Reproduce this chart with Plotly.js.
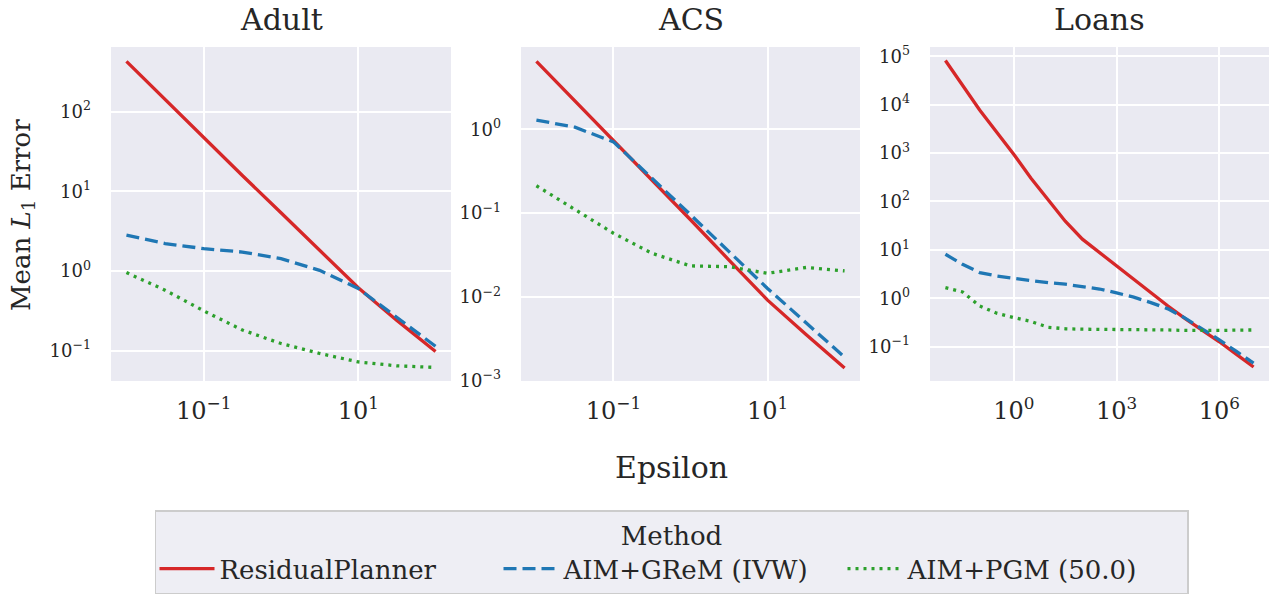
<!DOCTYPE html>
<html>
<head>
<meta charset="utf-8">
<script src="https://cdn.plot.ly/plotly-3.0.1.min.js"></script>
<style>html,body{margin:0;padding:0;background:#fff}#chart{width:1270px;height:595px}</style>
</head>
<body>
<div id="chart"></div>
<script>
// ---- data ----
const methods = ["ResidualPlanner", "AIM+GReM (IVW)", "AIM+PGM (50.0)"];

const epsSmall = [0.01, 0.0316, 0.1, 0.316, 1, 3.16, 10, 31.6, 100];
const epsLoans = [0.01, 0.0316, 0.1, 0.316, 1, 3.16, 10, 31.6, 100, 316, 1000, 3160,
                  1e4, 3.16e4, 1e5, 3.16e5, 1e6, 3.16e6, 1e7];

const adultResidual = [427, 141, 46.8, 15.8, 5.37, 1.82, 0.617, 0.240, 0.0977];
const adultGReM     = [2.81, 2.21, 1.91, 1.73, 1.43, 1.02, 0.603, 0.263, 0.1135];
const adultPGM      = [0.955, 0.575, 0.316, 0.182, 0.123, 0.0923, 0.0724, 0.0646, 0.0617];

const acsResidual = [6.46, 2.19, 0.741, 0.245, 0.0832, 0.0275, 0.00912, 0.00355, 0.00141];
const acsGReM     = [1.29, 1.06, 0.708, 0.263, 0.0955, 0.0347, 0.0126, 0.0049, 0.0019];
const acsPGM      = [0.212, 0.109, 0.0575, 0.0331, 0.0234, 0.0229, 0.0191, 0.0224, 0.0204];

const loansResidual = [81300, 25700, 7760, 2690, 933, 302, 105, 38.9, 16.6, 8.71,
                       4.79, 2.51, 1.32, 0.692, 0.380, 0.219, 0.126, 0.0692, 0.038];
const loansGReM     = [8.09, 5.01, 3.39, 2.88, 2.57, 2.29, 2.09, 1.95, 1.74, 1.55,
                       1.29, 1.05, 0.813, 0.603, 0.389, 0.234, 0.138, 0.0794, 0.0457];
const loansPGM      = [1.66, 1.35, 0.692, 0.49, 0.398, 0.331, 0.251, 0.234, 0.229, 0.229,
                       0.229, 0.226, 0.224, 0.221, 0.216, 0.214, 0.216, 0.219, 0.221];

const panelTitles = ["Adult", "ACS", "Loans"];

const xTickValsSmall = [0.1, 10];
const xTickTextSmall = ["10<sup>\u22121</sup>", "10<sup>1</sup>"];
const xTickValsLoans = [1, 1000, 1e6];
const xTickTextLoans = ["10<sup>0</sup>", "10<sup>3</sup>", "10<sup>6</sup>"];

const yTickValsAdult = [0.1, 1, 10, 100];
const yTickTextAdult = ["10<sup>\u22121</sup>", "10<sup>0</sup>", "10<sup>1</sup>", "10<sup>2</sup>"];
const yTickValsACS = [0.001, 0.01, 0.1, 1];
const yTickTextACS = ["10<sup>\u22123</sup>", "10<sup>\u22122</sup>", "10<sup>\u22121</sup>", "10<sup>0</sup>"];
const yTickValsLoans = [0.1, 1, 10, 100, 1000, 1e4, 1e5];
const yTickTextLoans = ["10<sup>\u22121</sup>", "10<sup>0</sup>", "10<sup>1</sup>", "10<sup>2</sup>",
                        "10<sup>3</sup>", "10<sup>4</sup>", "10<sup>5</sup>"];

// ---- styles ----
const FONT = "DejaVu Serif";
const colors = ["#d62728", "#1f77b4", "#2ca02c"];
const dashes = ["solid", "13px,6px", "3px,5px"];

const panels = [
  {x: epsSmall, ys: [adultResidual, adultGReM, adultPGM], xa: "x", ya: "y"},
  {x: epsSmall, ys: [acsResidual, acsGReM, acsPGM], xa: "x2", ya: "y2"},
  {x: epsLoans, ys: [loansResidual, loansGReM, loansPGM], xa: "x3", ya: "y3"}
];

const traces = [];
panels.forEach((p, pi) => {
  p.ys.forEach((vals, mi) => {
    traces.push({
      type: "scatter", mode: "lines",
      x: p.x, y: vals, xaxis: p.xa, yaxis: p.ya,
      name: methods[mi], legendgroup: methods[mi], showlegend: pi === 0,
      line: {color: colors[mi], width: 3.3, dash: dashes[mi]},
      hoverinfo: "x+y+name"
    });
  });
});

const W = 1270, H = 595;
const yDom = [1 - 381 / H, 1 - 47 / H];
function xAxis(l, r, range, vals, text) {
  return {
    type: "log", domain: [l / W, r / W], range: range,
    tickmode: "array", tickvals: vals, ticktext: text,
    showgrid: true, gridcolor: "#ffffff", gridwidth: 1.6,
    zeroline: false, showline: false, ticks: "",
    tickfont: {family: FONT, size: 24, color: "#262626"},
    ticklabelstandoff: 13
  };
}
function yAxis(range, vals, text) {
  return {
    type: "log", domain: yDom, range: range,
    tickmode: "array", tickvals: vals, ticktext: text,
    showgrid: true, gridcolor: "#ffffff", gridwidth: 1.6,
    zeroline: false, showline: false, ticks: "",
    tickfont: {family: FONT, size: 18, color: "#262626"},
    ticklabelstandoff: 19
  };
}

const layout = {
  width: W, height: H,
  margin: {l: 0, r: 0, t: 0, b: 0},
  paper_bgcolor: "#ffffff", plot_bgcolor: "#eaeaf2",
  font: {family: FONT, color: "#262626"},
  xaxis:  Object.assign(xAxis(111, 451, [-2.2, 2.2], xTickValsSmall, xTickTextSmall), {anchor: "y"}),
  xaxis2: Object.assign(xAxis(521, 860, [-2.2, 2.2], xTickValsSmall, xTickTextSmall), {anchor: "y2"}),
  xaxis3: Object.assign(xAxis(930, 1269, [-2.45, 7.45], xTickValsLoans, xTickTextLoans), {anchor: "y3"}),
  yaxis:  Object.assign(yAxis([-1.38, 2.81], yTickValsAdult, yTickTextAdult), {anchor: "x"}),
  yaxis2: Object.assign(yAxis([-3.005, 0.983], yTickValsACS, yTickTextACS), {anchor: "x2"}),
  yaxis3: Object.assign(yAxis([-1.71, 5.19], yTickValsLoans, yTickTextLoans), {anchor: "x3"}),
  showlegend: true,
  legend: {
    orientation: "h", x: 671.5 / W, xanchor: "center", y: 1 - 510 / H, yanchor: "top",
    bgcolor: "#eeeef4", bordercolor: "#cccccc", borderwidth: 1.5,
    font: {family: FONT, size: 26, color: "#262626"},
    title: {text: "Method", side: "top center", font: {family: FONT, size: 26, color: "#262626"}},
    itemwidth: 55, tracegroupgap: 0,
    entrywidthmode: "pixels", entrywidth: 274
  },
  annotations: [
    {text: panelTitles[0], xref: "paper", yref: "paper", x: 281 / W, y: 1 - 20 / H, showarrow: false,
     xanchor: "center", yanchor: "middle", font: {family: FONT, size: 30, color: "#262626"}},
    {text: panelTitles[1], xref: "paper", yref: "paper", x: 690.5 / W, y: 1 - 20 / H, showarrow: false,
     xanchor: "center", yanchor: "middle", font: {family: FONT, size: 30, color: "#262626"}},
    {text: panelTitles[2], xref: "paper", yref: "paper", x: 1099.5 / W, y: 1 - 20 / H, showarrow: false,
     xanchor: "center", yanchor: "middle", font: {family: FONT, size: 30, color: "#262626"}},
    {text: "Epsilon", xref: "paper", yref: "paper", x: 671 / W, y: 1 - 467 / H, showarrow: false,
     xanchor: "center", yanchor: "middle", font: {family: FONT, size: 30, color: "#262626"}},
    {text: "Mean <i>L</i><sub>1</sub> Error", xref: "paper", yref: "paper", x: 22 / W, y: 1 - 215 / H,
     showarrow: false, textangle: -90, xanchor: "center", yanchor: "middle",
     font: {family: FONT, size: 26, color: "#262626"}}
  ]
};

Plotly.newPlot("chart", traces, layout, {displayModeBar: false});
</script>
</body>
</html>
